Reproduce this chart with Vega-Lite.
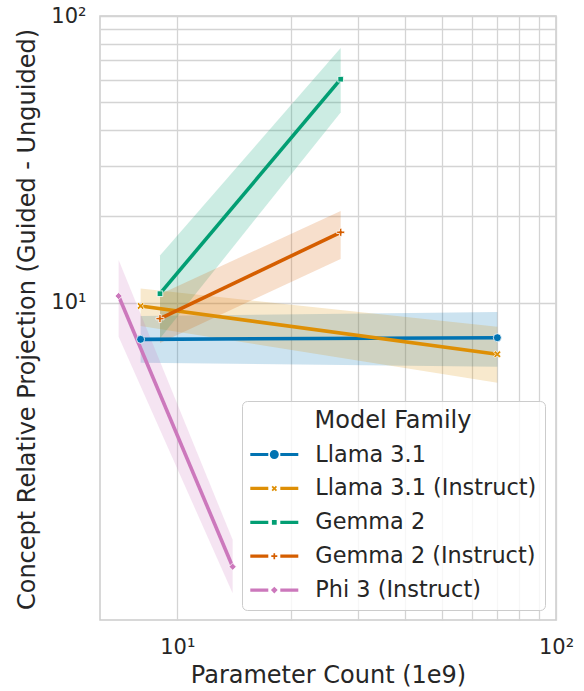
{
  "$schema": "https://vega.github.io/schema/vega-lite/v6.json",
  "width": 456,
  "height": 604,
  "autosize": {"type": "none"},
  "padding": {"left": 100, "top": 16, "right": 28, "bottom": 71},
  "background": "white",
  "config": {
    "font": "DejaVu Sans",
    "view": {"stroke": "#cccccc", "strokeWidth": 1.5},
    "axis": {
      "grid": true, "gridColor": "#d4d4d4", "gridWidth": 1.3,
      "ticks": false, "domain": false,
      "labelColor": "#262626", "titleColor": "#262626",
      "labelFont": "DejaVu Sans", "titleFont": "DejaVu Sans",
      "labelFontSize": 21, "titleFontSize": 24, "titleFontWeight": "normal",
      "labelOverlap": false, "labelFlush": false
    }
  },
  "data": {
    "values": [
      {"family": "Llama 3.1", "params": 8, "v": 7.45, "lo": 6.17, "hi": 8.99},
      {"family": "Llama 3.1", "params": 70, "v": 7.55, "lo": 5.98, "hi": 9.28},
      {"family": "Llama 3.1 (Instruct)", "params": 8, "v": 9.74, "lo": 8.3, "hi": 11.2},
      {"family": "Llama 3.1 (Instruct)", "params": 70, "v": 6.61, "lo": 5.26, "hi": 8.25},
      {"family": "Gemma 2", "params": 9, "v": 10.75, "lo": 7.5, "hi": 14.6},
      {"family": "Gemma 2", "params": 27, "v": 60.2, "lo": 46.1, "hi": 77.3},
      {"family": "Gemma 2 (Instruct)", "params": 9, "v": 8.8, "lo": 7.24, "hi": 10.7},
      {"family": "Gemma 2 (Instruct)", "params": 27, "v": 17.6, "lo": 14.2, "hi": 20.9},
      {"family": "Phi 3 (Instruct)", "params": 7, "v": 10.55, "lo": 7.6, "hi": 14.1},
      {"family": "Phi 3 (Instruct)", "params": 14, "v": 1.2, "lo": 0.97, "hi": 1.49}
    ]
  },
  "encoding": {
    "x": {
      "field": "params", "type": "quantitative",
      "scale": {"type": "log", "domain": [6.25, 100], "nice": false, "zero": false},
      "axis": {
        "title": "Parameter Count (1e9)",
        "values": [10, 20, 30, 40, 50, 60, 70, 80, 90, 100],
        "labelExpr": "datum.value == 10 ? '10¹' : datum.value == 100 ? '10²' : ''",
        "labelBaseline": "alphabetic", "labelPadding": 33,
        "titleX": 228, "titleY": 62, "titleBaseline": "alphabetic"
      }
    },
    "color": {
      "field": "family", "type": "nominal",
      "scale": {
        "domain": ["Llama 3.1", "Llama 3.1 (Instruct)", "Gemma 2", "Gemma 2 (Instruct)", "Phi 3 (Instruct)"],
        "range": ["#0173b2", "#de8f05", "#029e73", "#d55e00", "#cc78bc"]
      },
      "legend": {
        "title": "Model Family",
        "orient": "none", "legendX": 142, "legendY": 385,
        "direction": "vertical",
        "titleFontSize": 24, "titleFontWeight": "normal", "titleColor": "#262626",
        "titleFont": "DejaVu Sans", "titleAnchor": "middle", "titlePadding": 10,
        "labelFontSize": 22.4, "labelColor": "#262626", "labelFont": "DejaVu Sans",
        "labelOffset": 42.3, "labelLimit": 0,
        "symbolSize": 501.76, "symbolStrokeWidth": 0, "symbolType": "circle",
        "rowPadding": 10.9, "padding": 8,
        "strokeColor": "#cccccc", "fillColor": "rgba(255,255,255,0.8)", "cornerRadius": 5,
        "encode": {
          "symbols": {
            "update": {
              "shape": {"signal": "datum.value === 'Llama 3.1' ? 'M-1,-0.143H0.607V0.143H-1Z M1.679,-0.143H3.286V0.143H1.679Z M1.545,0A0.402,0.402,0,1,1,0.741,0A0.402,0.402,0,1,1,1.545,0Z' : datum.value === 'Llama 3.1 (Instruct)' ? 'M-1,-0.143H0.607V0.143H-1Z M1.679,-0.143H3.286V0.143H1.679Z M1.010,0.2462L1.143,0.1136L1.276,0.2462L1.389,0.1327L1.257,0L1.389,-0.1327L1.276,-0.2462L1.143,-0.1136L1.010,-0.2462L0.897,-0.1327L1.029,0L0.897,0.1327Z' : datum.value === 'Gemma 2' ? 'M-1,-0.143H0.607V0.143H-1Z M1.679,-0.143H3.286V0.143H1.679Z M0.929,-0.214H1.357V0.214H0.929Z' : datum.value === 'Gemma 2 (Instruct)' ? 'M-1,-0.143H0.607V0.143H-1Z M1.679,-0.143H3.286V0.143H1.679Z M1.068,-0.268H1.218V-0.075H1.411V0.075H1.218V0.268H1.068V0.075H0.875V-0.075H1.068Z' : 'M-1,-0.143H0.607V0.143H-1Z M1.679,-0.143H3.286V0.143H1.679Z M1.143,-0.3L1.443,0L1.143,0.3L0.843,0Z'"},
              "fill": {"signal": "scale('color', datum.value)"},
              "stroke": {"value": "transparent"},
              "strokeWidth": {"value": 0},
              "opacity": {"value": 1},
              "fillOpacity": {"value": 1}
            }
          }
        }
      }
    }
  },
  "layer": [
    {
      "mark": {"type": "area", "opacity": 0.2},
      "encoding": {
        "y": {
          "field": "lo", "type": "quantitative",
          "scale": {"type": "log", "domain": [0.782, 100], "nice": false, "zero": false},
          "axis": {
            "title": "Concept Relative Projection (Guided - Unguided)",
            "values": [10, 20, 30, 40, 50, 60, 70, 80, 90, 100],
            "labelExpr": "datum.value == 10 ? '10¹' : datum.value == 100 ? '10²' : ''",
            "labelPadding": 14,
            "titleX": -66, "titleY": 303, "titleBaseline": "alphabetic", "titleAngle": -90
          }
        },
        "y2": {"field": "hi"}
      }
    },
    {
      "mark": {"type": "line", "strokeWidth": 3.6},
      "encoding": {"y": {"field": "v", "type": "quantitative"}}
    },
    {
      "transform": [{"filter": "datum.family === 'Llama 3.1'"}],
      "mark": {"type": "point", "filled": true, "opacity": 1, "stroke": "white", "strokeWidth": 0.8, "size": 64, "shape": "circle"},
      "encoding": {"y": {"field": "v", "type": "quantitative"}}
    },
    {
      "transform": [{"filter": "datum.family === 'Llama 3.1 (Instruct)'"}],
      "mark": {"type": "point", "filled": true, "opacity": 1, "stroke": "white", "strokeWidth": 0.8, "size": 64, "shape": "M-0.495,0.919L0,0.424L0.495,0.919L0.919,0.495L0.424,0L0.919,-0.495L0.495,-0.919L0,-0.424L-0.495,-0.919L-0.919,-0.495L-0.424,0L-0.919,0.495Z"},
      "encoding": {"y": {"field": "v", "type": "quantitative"}}
    },
    {
      "transform": [{"filter": "datum.family === 'Gemma 2'"}],
      "mark": {"type": "point", "filled": true, "opacity": 1, "stroke": "white", "strokeWidth": 0.8, "size": 64, "shape": "M-0.7,-0.7H0.7V0.7H-0.7Z"},
      "encoding": {"y": {"field": "v", "type": "quantitative"}}
    },
    {
      "transform": [{"filter": "datum.family === 'Gemma 2 (Instruct)'"}],
      "mark": {"type": "point", "filled": true, "opacity": 1, "stroke": "white", "strokeWidth": 0.8, "size": 64, "shape": "M-0.3,-1H0.3V-0.3H1V0.3H0.3V1H-0.3V0.3H-1V-0.3H-0.3Z"},
      "encoding": {"y": {"field": "v", "type": "quantitative"}}
    },
    {
      "transform": [{"filter": "datum.family === 'Phi 3 (Instruct)'"}],
      "mark": {"type": "point", "filled": true, "opacity": 1, "stroke": "white", "strokeWidth": 0.8, "size": 64, "shape": "M0,-0.9L0.9,0L0,0.9L-0.9,0Z"},
      "encoding": {"y": {"field": "v", "type": "quantitative"}}
    }
  ]
}
